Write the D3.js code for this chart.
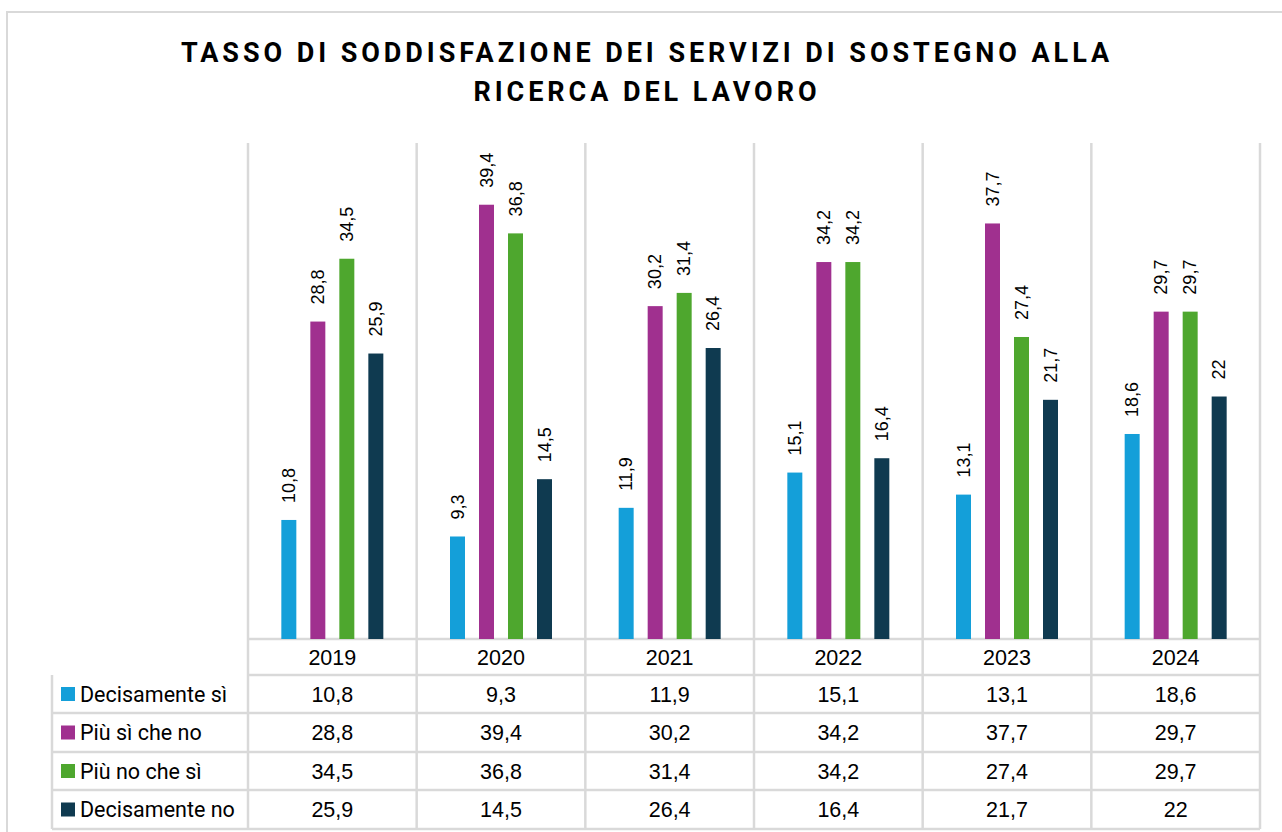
<!DOCTYPE html>
<html>
<head>
<meta charset="utf-8">
<script src="https://cdn.jsdelivr.net/npm/d3@7"></script>
<style>
  body { margin: 0; background: white; }
</style>
</head>
<body>
<div id="chart"></div>
<script>
// Data
const years = ['2019', '2020', '2021', '2022', '2023', '2024'];
const series = ['Decisamente sì', 'Più sì che no', 'Più no che sì', 'Decisamente no'];
const decisamenteSi = [10.8, 9.3, 11.9, 15.1, 13.1, 18.6];
const piuSiCheNo = [28.8, 39.4, 30.2, 34.2, 37.7, 29.7];
const piuNoCheSi = [34.5, 36.8, 31.4, 34.2, 27.4, 29.7];
const decisamenteNo = [25.9, 14.5, 26.4, 16.4, 21.7, 22];
const colors = ['#149fd9', '#a0308f', '#4ea72e', '#0f3a50'];
const titleLines = ['TASSO DI SODDISFAZIONE DEI SERVIZI DI SOSTEGNO ALLA', 'RICERCA DEL LAVORO'];

const values = [decisamenteSi, piuSiCheNo, piuNoCheSi, decisamenteNo];
const fmt = v => String(v).replace('.', ',');

let width = 1282,
    height = 832;

let margin = { top: 143, left: 248, right: 22, base: 639 };

const svg = d3.select('#chart')
              .append('svg')
              .attr('width', width)
              .attr('height', height)
              .style('background', 'white');

const gridColor = '#d9d9d9';

// Outer frame
svg.append('rect')
    .attr('x', 7)
    .attr('y', 12)
    .attr('width', 1300)
    .attr('height', 850)
    .attr('fill', 'none')
    .attr('stroke', gridColor)
    .attr('stroke-width', 2);

// Title
svg.append('text')
    .attr('x', 647)
    .attr('y', 62)
    .attr('text-anchor', 'middle')
    .style('font-family', 'Roboto, sans-serif')
    .style('font-weight', 'bold')
    .style('font-size', '27px')
    .style('letter-spacing', '3.95px')
    .selectAll('tspan')
    .data(titleLines)
    .enter().append('tspan')
    .attr('x', 647)
    .attr('dy', (d, i) => i === 0 ? 0 : 39)
    .text(d => d);

// Scales
const x0 = d3.scaleBand()
             .domain(years)
             .range([margin.left, width - margin.right]);

const x1 = d3.scaleBand()
             .domain(series)
             .range([x0.bandwidth() / 2 - 51, x0.bandwidth() / 2 + 51])
             .paddingInner(0.483);

const y = d3.scaleLinear()
            .domain([0, 45])
            .range([margin.base, margin.top]);

// Table rows
const rowY = [639, 675, 713, 752, 790, 829];
const tableLeft = 52;

// Horizontal table lines
svg.append('g')
    .selectAll('line')
    .data(rowY)
    .enter().append('line')
    .attr('x1', (d, i) => i < 2 ? margin.left : tableLeft)
    .attr('x2', width - margin.right)
    .attr('y1', d => d)
    .attr('y2', d => d)
    .attr('stroke', gridColor)
    .attr('stroke-width', 2.5);

// Vertical lines (category separators going up to the plot top)
const vLines = years.map(d => x0(d)).concat([width - margin.right]);
svg.append('g')
    .selectAll('line')
    .data(vLines)
    .enter().append('line')
    .attr('x1', d => d)
    .attr('x2', d => d)
    .attr('y1', margin.top)
    .attr('y2', rowY[5])
    .attr('stroke', gridColor)
    .attr('stroke-width', 2.5);

// Left edge of legend column
svg.append('line')
    .attr('x1', tableLeft)
    .attr('x2', tableLeft)
    .attr('y1', rowY[1])
    .attr('y2', rowY[5])
    .attr('stroke', gridColor)
    .attr('stroke-width', 2.5);

// Bars
series.forEach((s, si) => {
    const g = svg.append('g');
    g.selectAll('rect')
        .data(years)
        .enter().append('rect')
        .attr('x', (d, i) => x0(d) + x1(s))
        .attr('y', (d, i) => y(values[si][i]))
        .attr('width', x1.bandwidth())
        .attr('height', (d, i) => y(0) - y(values[si][i]))
        .attr('fill', colors[si]);

    // Rotated data labels
    g.selectAll('text')
        .data(years)
        .enter().append('text')
        .attr('transform', (d, i) => `translate(${x0(d) + x1(s) + x1.bandwidth() / 2}, ${y(values[si][i]) - 17}) rotate(-90)`)
        .attr('dy', '0.35em')
        .style('font-family', 'Liberation Sans, Arial, sans-serif')
        .style('font-size', '18px')
        .style('fill', '#000')
        .text((d, i) => fmt(values[si][i]));
});

// Year header row
svg.append('g')
    .selectAll('text')
    .data(years)
    .enter().append('text')
    .attr('x', d => x0(d) + x0.bandwidth() / 2)
    .attr('y', (rowY[0] + rowY[1]) / 2)
    .attr('dy', '0.35em')
    .attr('text-anchor', 'middle')
    .style('font-family', 'Liberation Sans, Arial, sans-serif')
    .style('font-size', '21.5px')
    .text(d => d);

// Table rows: legend + values
series.forEach((s, si) => {
    const cy = (rowY[si + 1] + rowY[si + 2]) / 2;

    svg.append('rect')
        .attr('x', 61)
        .attr('y', cy - 7)
        .attr('width', 14)
        .attr('height', 14)
        .attr('fill', colors[si]);

    svg.append('text')
        .attr('x', 80)
        .attr('y', cy)
        .attr('dy', '0.35em')
        .style('font-family', 'Roboto, sans-serif')
        .style('font-size', '21.5px')
        .text(s);

    svg.append('g')
        .selectAll('text')
        .data(years)
        .enter().append('text')
        .attr('x', d => x0(d) + x0.bandwidth() / 2)
        .attr('y', cy)
        .attr('dy', '0.35em')
        .attr('text-anchor', 'middle')
        .style('font-family', 'Liberation Sans, Arial, sans-serif')
        .style('font-size', '21.5px')
        .text((d, i) => fmt(values[si][i]));
});
</script>
</body>
</html>
